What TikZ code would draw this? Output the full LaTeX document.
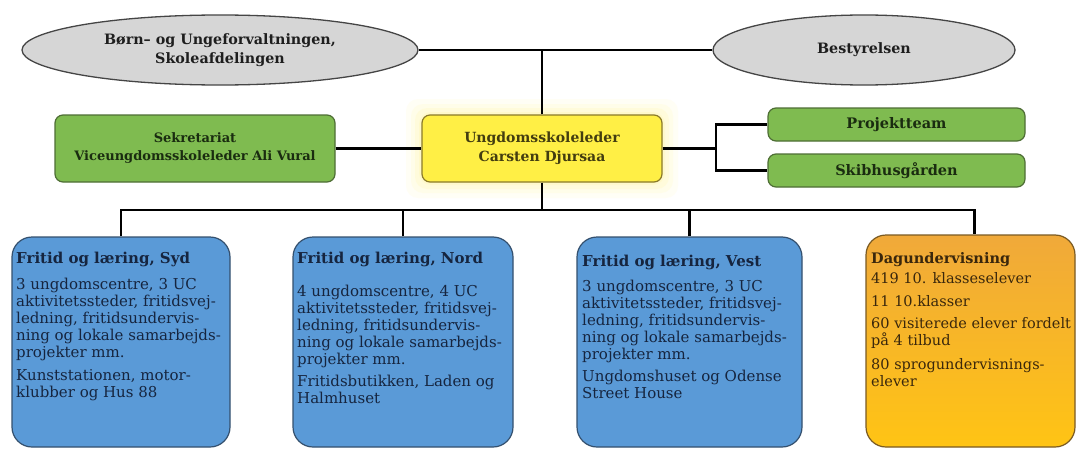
\documentclass[tikz,border=0pt]{standalone}
\usepackage{fontspec}
\setmainfont{DejaVu Serif}
\usetikzlibrary{shapes.geometric}
\definecolor{ellfill}{HTML}{D6D6D6}
\definecolor{elldraw}{HTML}{454545}
\definecolor{grfill}{HTML}{7FBB50}
\definecolor{grdraw}{HTML}{4E6E35}
\definecolor{ylfill}{HTML}{FFEF45}
\definecolor{ylglow}{HTML}{FFF7A0}
\definecolor{yldraw}{HTML}{8A7A2A}
\definecolor{blfill}{HTML}{5A9AD7}
\definecolor{bldraw}{HTML}{34506E}
\definecolor{ortop}{HTML}{F0A93A}
\definecolor{orbot}{HTML}{FFC414}
\definecolor{ordraw}{HTML}{7A5A22}
\definecolor{txgray}{HTML}{1E1E1E}
\definecolor{txgreen}{HTML}{1A2C10}
\definecolor{txyellow}{HTML}{433D10}
\definecolor{txblue}{HTML}{16253F}
\definecolor{txorange}{HTML}{3A270C}
\begin{document}
\begin{tikzpicture}[x=1pt,y=-1pt,
  ell/.style={ellipse, draw=elldraw, fill=ellfill, line width=1.3pt, inner sep=0pt,
    font=\bfseries\fontsize{14.3}{19}\selectfont, text=txgray, align=center},
  topbox/.style={rounded corners=8pt, line width=1.2pt, inner sep=0pt, align=center},
  greenbox/.style={topbox, draw=grdraw, fill=grfill, text=txgreen,
    font=\bfseries\fontsize{13}{18}\selectfont},
  yellowbox/.style={topbox, draw=yldraw, fill=ylfill, text=txyellow,
    font=\bfseries\fontsize{14}{19}\selectfont},
  bigbox/.style={rounded corners=20pt, line width=1.2pt, inner sep=0pt},
  bluebox/.style={bigbox, draw=bldraw, fill=blfill},
  orangebox/.style={bigbox, draw=ordraw, top color=ortop, bottom color=orbot},
  bodytext/.style={inner sep=0pt, align=left, anchor=north west,
    font=\fontsize{15}{17}\selectfont},
  conn/.style={line width=2.6pt, black}
]
\useasboundingbox (0,0) rectangle (1078,452);
\fill[white] (0,0) rectangle (1078,452);

% glow around the yellow box
\foreach \g/\o in {16/0.10,11/0.14,7/0.18,3/0.25}{
  \fill[ylglow, opacity=\o, rounded corners=12pt] (422-\g,115-\g) rectangle (662+\g,182+\g);
}

% top ellipses
\node[ell, minimum width=396pt, minimum height=70pt] (bu) at (220,50)
  {Børn– og Ungeforvaltningen,\\Skoleafdelingen};
\node[ell, minimum width=302pt, minimum height=70pt] (be) at (864,50) {Bestyrelsen};

% middle row
\node[yellowbox, minimum width=240pt, minimum height=67pt] (cd) at (542,148.5)
  {Ungdomsskoleleder\\Carsten Djursaa};
\node[greenbox, minimum width=280pt, minimum height=67pt] (sek) at (195,148.5)
  {Sekretariat\\Viceungdomsskoleleder Ali Vural};
\node[greenbox, font=\bfseries\fontsize{14.5}{18}\selectfont, minimum width=257pt, minimum height=33pt] (proj) at (896.5,124.5) {Projektteam};
\node[greenbox, font=\bfseries\fontsize{14.5}{18}\selectfont, minimum width=257pt, minimum height=33pt] (skib) at (896.5,170.5) {Skibhusgården};

% bottom row boxes
\node[bluebox, minimum width=218pt, minimum height=210pt] (syd) at (121,342) {};
\node[bluebox, minimum width=220pt, minimum height=210pt] (nord) at (403,342) {};
\node[bluebox, minimum width=225pt, minimum height=210pt] (vest) at (689.5,342) {};
\node[orangebox, minimum width=209pt, minimum height=212pt] (dag) at (970.5,341) {};

% texts of bottom boxes
\node[bodytext, text=txblue] (sydt) at (16,252)
  {{\bfseries Fritid og læring, Syd}\\[9pt]
   3 ungdomscentre, 3 UC\\
   aktivitetssteder, fritidsvej-\\
   ledning, fritidsundervis-\\
   ning og lokale samarbejds-\\
   projekter mm.\\[6pt]
   Kunststationen, motor-\\
   klubber og Hus 88};
\node[bodytext, text=txblue] (nordt) at (297,252)
  {{\bfseries Fritid og læring, Nord}\\[16pt]
   4 ungdomscentre, 4 UC\\
   aktivitetssteder, fritidsvej-\\
   ledning, fritidsundervis-\\
   ning og lokale samarbejds-\\
   projekter mm.\\[5pt]
   Fritidsbutikken, Laden og\\
   Halmhuset};
\node[bodytext, text=txblue] (vestt) at (582,255)
  {{\bfseries Fritid og læring, Vest}\\[8pt]
   3 ungdomscentre, 3 UC\\
   aktivitetssteder, fritidsvej-\\
   ledning, fritidsundervis-\\
   ning og lokale samarbejds-\\
   projekter mm.\\[5pt]
   Ungdomshuset og Odense\\
   Street House};
\node[bodytext, text=txorange, font=\fontsize{14.5}{17}\selectfont] (dagt) at (871,252)
  {{\bfseries Dagundervisning}\\[3pt]
   419 10. klasseselever\\[6pt]
   11 10.klasser\\[5pt]
   60 visiterede elever fordelt\\
   på 4 tilbud\\[7pt]
   80 sprogundervisnings-\\
   elever};

% connectors
\coordinate (pj) at (716,148.5);
\coordinate (bus) at (542,210);
\draw[conn] (bu.east) -- (be.west);
\draw[conn] (cd.north) -- (cd.north |- bu.east);
\draw[conn] (sek.east) -- (cd.west);
\draw[conn] (cd.east) -- (pj);
\draw[conn] (proj.west) -| (pj) |- (skib.west);
\draw[conn] (cd.south) -- (bus);
\draw[conn] (syd.north) -- (syd.north |- bus) -- ([xshift=4pt]dag.north |- bus) -- ([xshift=4pt]dag.north);
\draw[conn] (nord.north) -- (nord.north |- bus);
\draw[conn] (vest.north) -- (vest.north |- bus);
\end{tikzpicture}
\end{document}
